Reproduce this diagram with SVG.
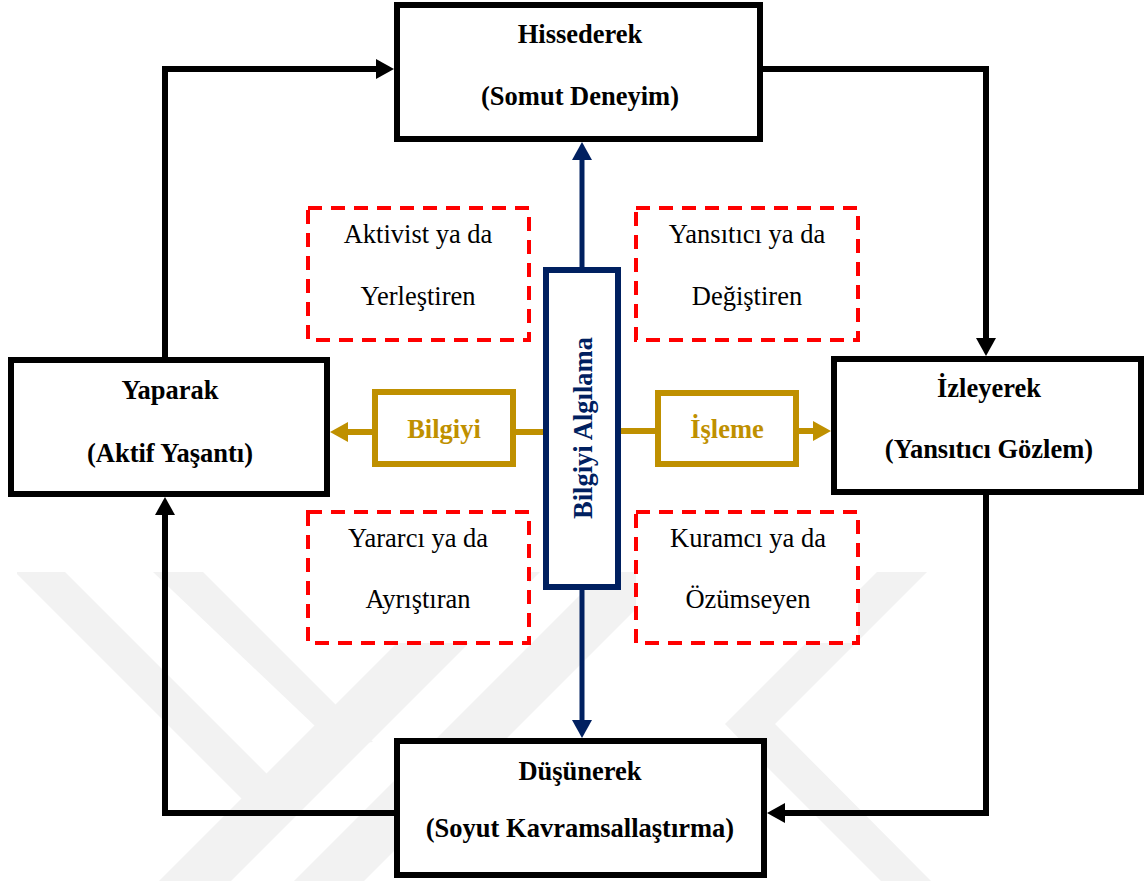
<svg xmlns="http://www.w3.org/2000/svg" width="1147" height="881" viewBox="0 0 1147 881">
  <defs>
    <style>
      .box { fill: #ffffff; stroke: #000000; stroke-width: 6; }
      .blue { fill: #ffffff; stroke: #002060; stroke-width: 6; }
      .gold { fill: #ffffff; stroke: #bf9000; stroke-width: 6; }
      .dash { fill: #ffffff; stroke: #ff0000; stroke-width: 4; stroke-dasharray: 14 9; }
      .lbl { font-family: Liberation Serif, Times New Roman, Tinos, DejaVu Serif, serif; font-size: 26.5px; text-anchor: middle; fill: #000000; }
      .b { font-weight: bold; }
      .tb { fill: #002060; }
      .tg { fill: #bf9000; }
      .k { fill: none; stroke: #000000; stroke-width: 6; stroke-linejoin: miter; }
      .kb { fill: none; stroke: #002060; stroke-width: 5; }
      .kg { fill: none; stroke: #bf9000; stroke-width: 6; }
      .wm { fill: #f2f2f2; }
    </style>
    <marker id="ah" viewBox="0 0 18 20" markerWidth="18" markerHeight="20" refX="2" refY="10" orient="auto" markerUnits="userSpaceOnUse">
      <path d="M0,0 L18,10 L0,20 z" fill="#000000"/>
    </marker>
    <marker id="ahb" viewBox="0 0 18 20" markerWidth="18" markerHeight="20" refX="2" refY="10" orient="auto" markerUnits="userSpaceOnUse">
      <path d="M0,0 L18,10 L0,20 z" fill="#002060"/>
    </marker>
    <marker id="ahg" viewBox="0 0 18 20" markerWidth="18" markerHeight="20" refX="2" refY="10" orient="auto" markerUnits="userSpaceOnUse">
      <path d="M0,0 L18,10 L0,20 z" fill="#bf9000"/>
    </marker>
  </defs>

  <rect x="0" y="0" width="1147" height="881" fill="#ffffff"/>

  <!-- faint background emblem -->
  <g id="emblem">
    <polygon class="wm" points="17,572 65,572 293,800 268,825 17,574"/>
    <polygon class="wm" points="153,572 203,572 373,742 336,746 153,572"/>
    <polygon class="wm" points="468,572 540,572 231,881 159,881"/>
    <polygon class="wm" points="603,572 673,572 364,881 294,881"/>
    <polygon class="wm" points="877,572 927,572 775,724 725,724"/>
    <polygon class="wm" points="725,724 775,724 931,881 881,881 750,750"/>
  </g>

  <g id="connectors">
    <path class="k" d="M165,360 V69 H378" marker-end="url(#ah)"/>
    <path class="k" d="M763,69 H986 V340" marker-end="url(#ah)"/>
    <path class="k" d="M986,493 V813 H783" marker-end="url(#ah)"/>
    <path class="k" d="M394,813 H165 V513" marker-end="url(#ah)"/>
    <path class="kb" d="M582,267 V158" marker-end="url(#ahb)"/>
    <path class="kb" d="M582,590 V722" marker-end="url(#ahb)"/>
    <path class="kg" d="M372,432 H346" marker-end="url(#ahg)"/>
    <path class="kg" d="M516,432 H545"/>
    <path class="kg" d="M619,431 H655"/>
    <path class="kg" d="M799,431 H815" marker-end="url(#ahg)"/>
  </g>

  <g id="hissederek">
    <rect class="box" x="397" y="5" width="363" height="134"/>
    <text class="lbl b" x="580" y="43">Hissederek</text>
    <text class="lbl b" x="580" y="105">(Somut Deneyim)</text>
  </g>

  <g id="yaparak">
    <rect class="box" x="11" y="360" width="316" height="134"/>
    <text class="lbl b" x="170" y="399">Yaparak</text>
    <text class="lbl b" x="170" y="462">(Aktif Yaşantı)</text>
  </g>

  <g id="izleyerek">
    <rect class="box" x="834" y="359" width="307" height="133"/>
    <text class="lbl b" x="989" y="397">İzleyerek</text>
    <text class="lbl b" x="989" y="458">(Yansıtıcı Gözlem)</text>
  </g>

  <g id="dusunerek">
    <rect class="box" x="397" y="741" width="367" height="134"/>
    <text class="lbl b" x="580" y="780">Düşünerek</text>
    <text class="lbl b" x="580" y="837">(Soyut Kavramsallaştırma)</text>
  </g>

  <g id="algilama">
    <rect class="blue" x="546" y="270" width="72" height="317"/>
    <text class="lbl b tb" transform="translate(592,428) rotate(-90)" x="0" y="0">Bilgiyi Algılama</text>
  </g>

  <g id="bilgiyi">
    <rect class="gold" x="375" y="392" width="138" height="72"/>
    <text class="lbl b tg" x="444" y="438">Bilgiyi</text>
  </g>

  <g id="isleme">
    <rect class="gold" x="658" y="393" width="138" height="71"/>
    <text class="lbl b tg" x="727" y="438">İşleme</text>
  </g>

  <g id="aktivist">
    <rect class="dash" x="308" y="208" width="221" height="132"/>
    <text class="lbl" x="418" y="243">Aktivist ya da</text>
    <text class="lbl" x="418" y="305">Yerleştiren</text>
  </g>

  <g id="yansitici">
    <rect class="dash" x="636" y="208" width="222" height="132"/>
    <text class="lbl" x="747" y="243">Yansıtıcı ya da</text>
    <text class="lbl" x="747" y="305">Değiştiren</text>
  </g>

  <g id="yararci">
    <rect class="dash" x="308" y="512" width="221" height="131"/>
    <text class="lbl" x="418" y="547">Yararcı ya da</text>
    <text class="lbl" x="418" y="608">Ayrıştıran</text>
  </g>

  <g id="kuramci">
    <rect class="dash" x="636" y="512" width="222" height="131"/>
    <text class="lbl" x="748" y="547">Kuramcı ya da</text>
    <text class="lbl" x="748" y="608">Özümseyen</text>
  </g>
</svg>
